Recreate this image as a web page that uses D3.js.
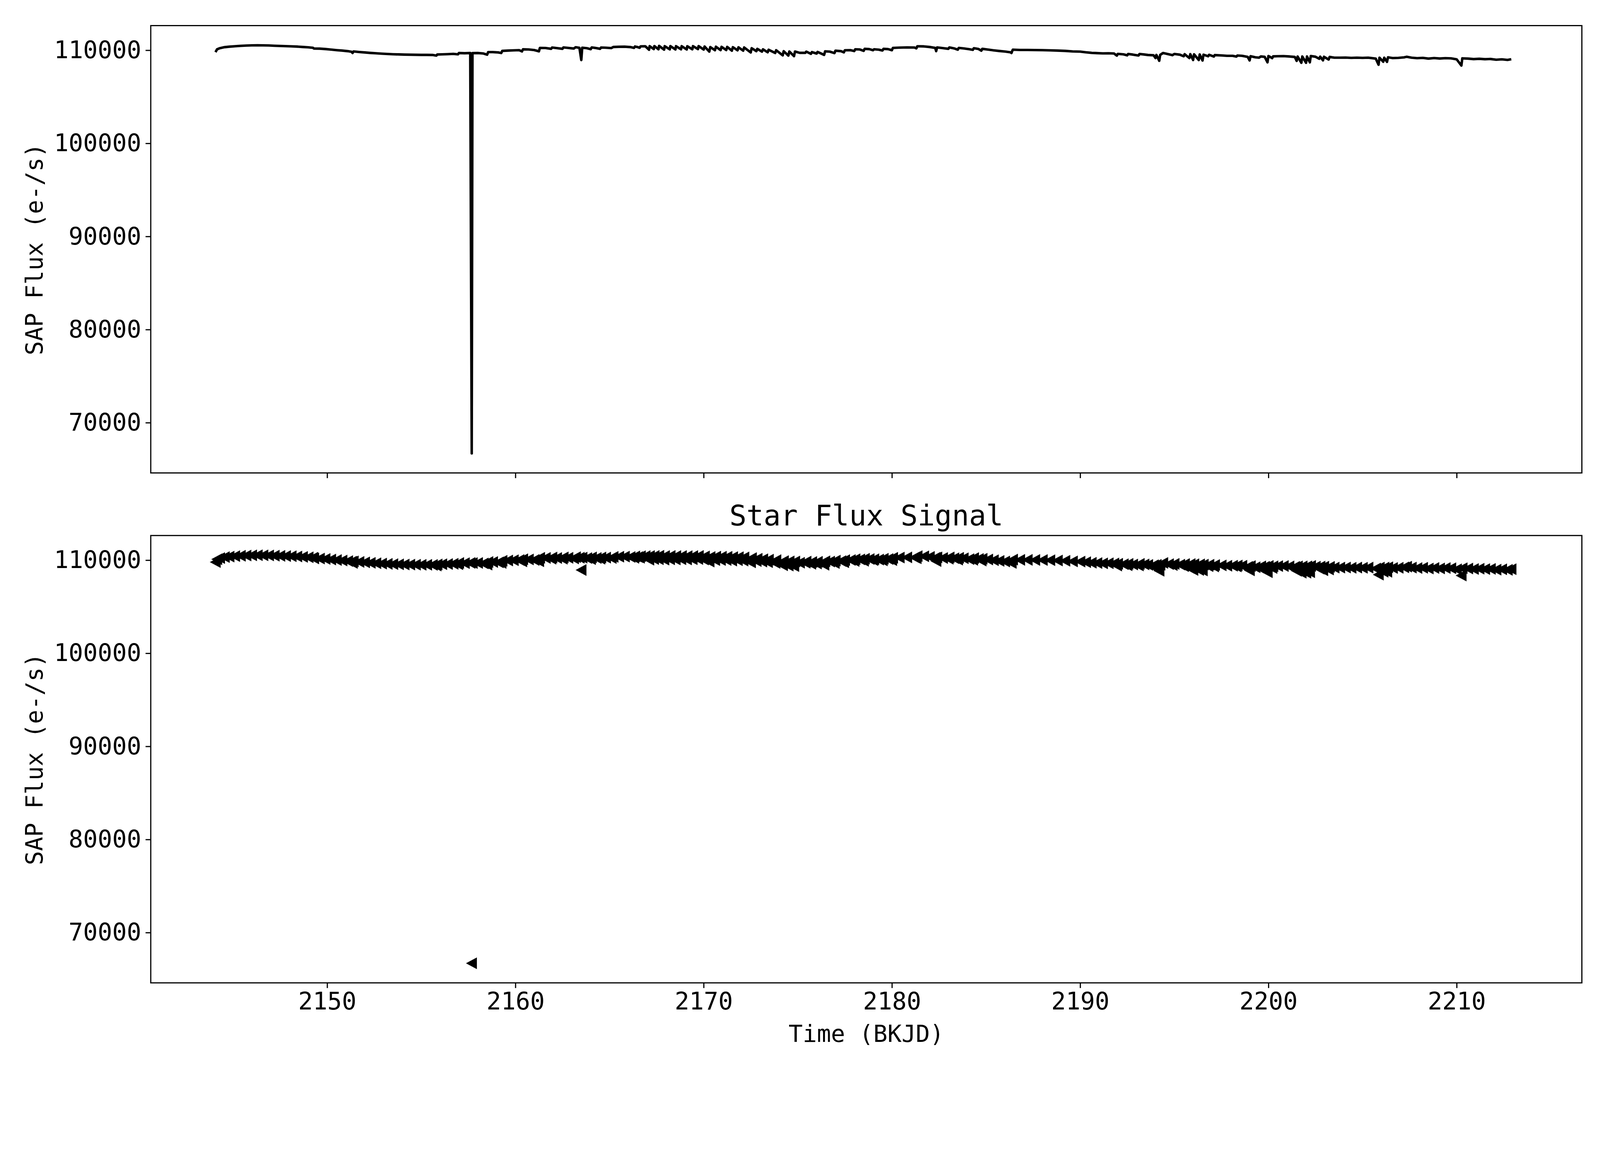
<!DOCTYPE html>
<html>
<head>
<meta charset="utf-8">
<script src="https://cdn.jsdelivr.net/npm/d3@7"></script>
<style>
	html, body { margin: 0; padding: 0; background: #fff; overflow: hidden; }
	svg { display: block; }
	text { font-family: "DejaVu Sans Mono", monospace; fill: #000; }
</style>
</head>
<body>
<div id="chart"></div>
<script>
// time (BKJD) and SAP flux
const times = [
	2144.07, 2144.15, 2144.3, 2144.55, 2144.8, 2145.1, 2145.4, 2145.7, 2146.0, 2146.3,
	2146.6, 2146.9, 2147.2, 2147.5, 2147.8, 2148.1, 2148.4, 2148.7, 2149.0, 2149.25,
	2149.3, 2149.6, 2149.9, 2150.2, 2150.5, 2150.8, 2151.1, 2151.3, 2151.35, 2151.4,
	2151.7, 2152.0, 2152.3, 2152.6, 2152.9, 2153.2, 2153.5, 2153.8, 2154.1, 2154.4,
	2154.7, 2155.0, 2155.3, 2155.6, 2155.8, 2155.85, 2156.1, 2156.4, 2156.7, 2156.95,
	2157.0, 2157.3, 2157.6, 2157.68, 2157.72, 2158.0, 2158.3, 2158.5, 2158.55, 2158.8,
	2159.1, 2159.25, 2159.3, 2159.6, 2159.9, 2160.2, 2160.35, 2160.4, 2160.7, 2161.0,
	2161.25, 2161.3, 2161.6, 2161.9, 2161.95, 2162.2, 2162.5, 2162.55, 2162.8, 2163.1,
	2163.2, 2163.4, 2163.5, 2163.55, 2163.8, 2164.0, 2164.05, 2164.3, 2164.5, 2164.55,
	2164.8, 2165.1, 2165.2, 2165.5, 2165.8, 2166.1, 2166.3, 2166.35, 2166.5, 2166.6,
	2166.65, 2166.9, 2167.1, 2167.13, 2167.35, 2167.38, 2167.6, 2167.63, 2167.9, 2167.93,
	2168.2, 2168.23, 2168.5, 2168.53, 2168.8, 2168.83, 2169.1, 2169.13, 2169.4, 2169.43,
	2169.7, 2169.73, 2170.0, 2170.05, 2170.3, 2170.35, 2170.6, 2170.65, 2170.9, 2170.95,
	2171.2, 2171.25, 2171.5, 2171.55, 2171.8, 2171.85, 2172.1, 2172.15, 2172.5, 2172.55,
	2172.8, 2172.85, 2173.1, 2173.15, 2173.4, 2173.45, 2173.8, 2173.85, 2174.2, 2174.25,
	2174.5, 2174.55, 2174.8, 2174.85, 2175.1, 2175.4, 2175.45, 2175.7, 2175.75, 2176.0,
	2176.05, 2176.4, 2176.45, 2176.7, 2176.95, 2177.0, 2177.3, 2177.45, 2177.5, 2177.8,
	2178.0, 2178.05, 2178.3, 2178.5, 2178.55, 2178.8, 2179.0, 2179.05, 2179.3, 2179.5,
	2179.55, 2179.8, 2180.0, 2180.05, 2180.4, 2180.8, 2181.2, 2181.3, 2181.35, 2181.7,
	2182.0, 2182.3, 2182.35, 2182.4, 2182.7, 2183.0, 2183.05, 2183.3, 2183.5, 2183.55,
	2183.8, 2184.1, 2184.3, 2184.35, 2184.6, 2184.75, 2184.8, 2185.1, 2185.4, 2185.7,
	2186.0, 2186.3, 2186.35, 2186.42, 2186.8, 2187.2, 2187.6, 2188.0, 2188.4, 2188.8,
	2189.2, 2189.6, 2190.0, 2190.3, 2190.6, 2190.9, 2191.2, 2191.5, 2191.8, 2191.95,
	2192.0, 2192.3, 2192.5, 2192.55, 2192.8, 2193.1, 2193.15, 2193.4, 2193.6, 2193.9,
	2194.0, 2194.05, 2194.2, 2194.25, 2194.4, 2194.7, 2194.9, 2195.0, 2195.3, 2195.5,
	2195.55, 2195.8, 2195.85, 2196.0, 2196.05, 2196.3, 2196.35, 2196.5, 2196.55, 2196.8,
	2196.85, 2197.1, 2197.15, 2197.5, 2197.8, 2198.1, 2198.3, 2198.35, 2198.6, 2198.9,
	2199.0, 2199.05, 2199.3, 2199.5, 2199.6, 2199.8, 2199.95, 2200.0, 2200.2, 2200.25,
	2200.5, 2200.8, 2201.1, 2201.4, 2201.5, 2201.55, 2201.75, 2201.8, 2202.0, 2202.05,
	2202.2, 2202.25, 2202.5, 2202.7, 2202.75, 2202.9, 2202.95, 2203.2, 2203.25, 2203.5,
	2203.8, 2204.1, 2204.4, 2204.7, 2205.0, 2205.3, 2205.7, 2205.85, 2205.9, 2206.1,
	2206.15, 2206.3, 2206.35, 2206.6, 2206.9, 2207.2, 2207.35, 2207.6, 2207.9, 2208.2,
	2208.5, 2208.8, 2209.1, 2209.4, 2209.7, 2210.0, 2210.25, 2210.3, 2210.6, 2210.9,
	2211.2, 2211.5, 2211.8, 2212.1, 2212.4, 2212.7, 2212.9
];
const flux = [
	109790, 110100, 110220, 110330, 110380, 110430, 110470, 110500, 110520, 110530,
	110520, 110510, 110480, 110460, 110440, 110420, 110390, 110350, 110310, 110260,
	110180, 110170, 110130, 110070, 110010, 109960, 109900, 109830, 109700, 109870,
	109810, 109760, 109710, 109670, 109630, 109600, 109570, 109550, 109530, 109520,
	109510, 109500, 109500, 109490, 109420, 109540, 109560, 109580, 109610, 109560,
	109700, 109680, 109700, 66700, 109690, 109700, 109650, 109520, 109800, 109800,
	109760, 109700, 109930, 109960, 109990, 110010, 109870, 110100, 110080, 110020,
	109880, 110250, 110240, 110150, 110290, 110230, 110150, 110300, 110250, 110180,
	110320, 110260, 108940, 110270, 110220, 110110, 110300, 110230, 110150, 110290,
	110270, 110230, 110350, 110370, 110380, 110340, 110250, 110400, 110330, 110260,
	110420, 110430, 110050, 110440, 110120, 110450, 110100, 110470, 110060, 110440,
	110090, 110450, 110080, 110440, 110100, 110440, 110080, 110430, 110100, 110440,
	110120, 110450, 110070, 110400, 109850, 110340, 110000, 110380, 110010, 110370,
	110020, 110360, 109950, 110330, 109990, 110320, 109950, 110300, 109760, 110220,
	109900, 110150, 109850, 110100, 109780, 110050, 109700, 110000, 109450, 109900,
	109420, 109870, 109360, 109860, 109720, 109720, 109850, 109610, 109800, 109640,
	109820, 109500, 109880, 109850, 109690, 109950, 109900, 109770, 110000, 110010,
	109910, 110100, 110080, 109930, 110150, 110120, 110000, 110100, 110060, 109970,
	110150, 110120, 110000, 110250, 110280, 110300, 110290, 110200, 110430, 110410,
	110350, 110250, 109900, 110300, 110230, 110150, 110300, 110200, 110060, 110250,
	110200, 110110, 110040, 110220, 110130, 109950, 110150, 110070, 109990, 109920,
	109860, 109780, 109700, 110060, 110030, 110030, 110020, 110010, 109990, 109960,
	109930, 109870, 109850, 109780, 109720, 109690, 109660, 109670, 109650, 109420,
	109610, 109560, 109450, 109600, 109530, 109430, 109600, 109540, 109490, 109460,
	109160, 109500, 108860, 109500, 109700, 109570, 109470, 109600, 109520, 109350,
	109580, 109160, 109580, 108950, 109560, 108950, 109550, 108890, 109520, 109350,
	109510, 109320, 109480, 109440, 109400, 109400, 109320, 109430, 109400, 109280,
	108900, 109360, 109240, 109200, 109330, 109290, 108700, 109380, 109150, 109340,
	109360, 109370, 109330, 109280, 108850, 109330, 108650, 109330, 108650, 109330,
	108700, 109380, 109300, 109080, 109310, 108910, 109300, 109000, 109280, 109200,
	109200, 109210, 109180, 109200, 109180, 109200, 109100, 108440, 109200, 108760,
	109200, 108750, 109240, 109160, 109180, 109230, 109300, 109200, 109150, 109180,
	109100, 109160, 109110, 109150, 109130, 109020, 108350, 109130, 109100, 109050,
	109080, 109040, 109060, 108980, 109020, 108960, 109030
];
const xTicks = [2150, 2160, 2170, 2180, 2190, 2200, 2210];
const yTicks = [70000, 80000, 90000, 100000, 110000];

const W = 4500, H = 3000;
const left = 424, right = 4449;
const panels = [{top: 72, bottom: 1330}, {top: 1506, bottom: 2764}];

const points = times.map((t, i) => ({t, f: flux[i]}));

const svg = d3.select('#chart').append('svg')
	.attr('viewBox', `0 0 ${W} ${H}`)
	.attr('preserveAspectRatio', 'xMidYMin meet')
	.style('width', '100vw').style('height', '100vh')
	.style('background', '#fff');

const x = d3.scaleLinear().domain([2140.63, 2216.65]).range([left, right]);

panels.forEach((p, k) => {
	const y = d3.scaleLinear().domain([64600, 112645]).range([p.bottom, p.top]);
	const g = svg.append('g');

	g.append('clipPath').attr('id', 'clip' + k)
		.append('rect').attr('x', left).attr('y', p.top)
		.attr('width', right - left).attr('height', p.bottom - p.top);

	const marks = g.append('g').attr('clip-path', `url(#clip${k})`);
	if (k === 0) {
		marks.append('path')
			.datum(points)
			.attr('fill', 'none')
			.attr('stroke', '#000')
			.attr('stroke-width', 7)
			.attr('stroke-linejoin', 'round')
			.attr('d', d3.line().x(d => x(d.t)).y(d => y(d.f)));
	} else {
		// left-pointing triangle markers
		marks.selectAll('path').data(points).join('path')
			.attr('transform', d => `translate(${x(d.t)},${y(d.f)})`)
			.attr('d', 'M-13,0L13,-14L13,14Z')
			.attr('fill', '#000')
			.attr('stroke', '#000')
			.attr('stroke-width', 3);
	}

	const xAxis = d3.axisBottom(x).tickValues(xTicks).tickSize(14.6).tickPadding(12)
		.tickFormat(k === 0 ? '' : d3.format('d'));
	const yAxis = d3.axisLeft(y).tickValues(yTicks).tickSize(14.6).tickPadding(12)
		.tickFormat(d3.format('d'));

	const gx = g.append('g').attr('transform', `translate(0,${p.bottom})`).call(xAxis);
	const gy = g.append('g').attr('transform', `translate(${left},0)`).call(yAxis);
	[gx, gy].forEach(a => {
		a.select('.domain').remove();
		a.selectAll('line').attr('stroke-width', 3.3);
		a.selectAll('text').attr('font-size', 68).attr('font-family', '"DejaVu Sans Mono", monospace');
	});

	g.append('rect')
		.attr('x', left).attr('y', p.top)
		.attr('width', right - left).attr('height', p.bottom - p.top)
		.attr('fill', 'none').attr('stroke', '#000').attr('stroke-width', 3.3);

	g.append('text')
		.attr('transform', `translate(${101},${(p.top + p.bottom) / 2}) rotate(-90)`)
		.attr('text-anchor', 'middle').attr('dominant-baseline', 'middle')
		.attr('font-size', 66)
		.text('SAP Flux (e-/s)');
});

svg.append('text')
	.attr('x', (left + right) / 2).attr('y', 1478)
	.attr('text-anchor', 'middle').attr('font-size', 80)
	.text('Star Flux Signal');

svg.append('text')
	.attr('x', (left + right) / 2).attr('y', 2930)
	.attr('text-anchor', 'middle').attr('font-size', 66)
	.text('Time (BKJD)');
</script>
</body>
</html>
